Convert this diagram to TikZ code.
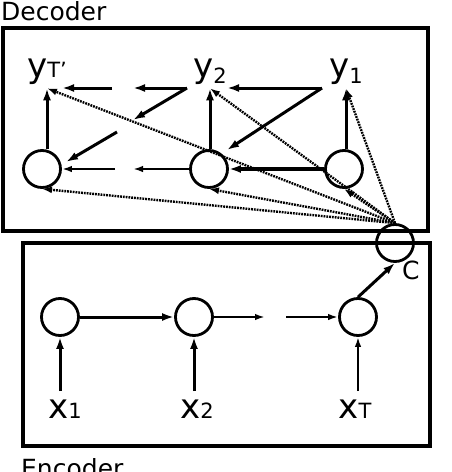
\documentclass[tikz,border=0pt]{standalone}
\usepackage{fontspec}
\setmainfont{DejaVu Sans}
\usetikzlibrary{arrows.meta}
\newcommand{\biglab}[3]{{\fontsize{34}{36}\selectfont #1}\raisebox{#3}{\fontsize{21}{23}\selectfont #2}}
\begin{document}
\begin{tikzpicture}[x=1pt,y=-1pt,
  cell/.style={circle,draw,line width=2.8pt,minimum size=37pt,inner sep=0pt},
  box/.style={draw,line width=3.2pt,inner sep=0pt},
  ylab/.style={inner xsep=0pt,inner ysep=4pt,anchor=base},
  xlab/.style={inner xsep=0pt,inner ysep=8pt,anchor=base},
  title/.style={inner sep=0pt,anchor=base west,font=\fontsize{25}{28}\selectfont},
  thickarr/.style={line width=3pt,-{Latex[length=12pt,width=8pt]}},
  thinarr/.style={line width=2pt,-{Latex[length=10pt,width=6.5pt]}},
  dotarr/.style={line width=2.4pt,dash pattern=on 1.8pt off 1pt,-{Latex[length=10pt,width=7pt]}},
]
\useasboundingbox (0,0) rectangle (452,472);

% boxes and titles
\node[box,minimum width=425pt,minimum height=203pt] (dec) at (215.5,129.5) {};
\node[box,minimum width=407pt,minimum height=203pt] (enc) at (226.5,344.5) {};
\node[title] (dectitle) at (1,20) {Decoder};
\node[title] (enctitle) at (21,477) {Encoder};

% encoder
\node[cell] (e1) at (60,317) {};
\node[cell] (e2) at (194,317) {};
\node[cell] (e3) at (358,317) {};
\node[cell] (c) at (395,243) {};
\node[title] (clab) at (402,279) {C};
\node[xlab] (x1) at (65,418) {\biglab{x}{1}{0pt}};
\node[xlab] (x2) at (197,418) {\biglab{x}{2}{0pt}};
\node[xlab] (xT) at (355,418) {\biglab{x}{T}{0pt}};

\draw[thickarr] (e1.south |- x1.north) -- (e1.south);
\draw[thickarr] (e2.south |- x2.north) -- (e2.south);
\draw[thinarr] (e3.south |- xT.north) -- (e3.south);
\coordinate (ea) at (265,317);
\coordinate (eb) at (286,317);
\draw[thickarr] (e1.east) -- (e2.west);
\draw[thinarr] (e2.east) -- (ea);
\draw[thinarr] (eb) -- (e3.west);
\draw[thickarr] (e3.north) -- (c.south);

% decoder
\node[cell] (d1) at (42,169) {};
\node[cell] (d2) at (209,169) {};
\node[cell] (d3) at (344,169) {};
\node[ylab] (yT) at (47,77) {\biglab{y}{T'}{0pt}};
\node[ylab] (y2) at (210,77) {\biglab{y}{2}{-6pt}};
\node[ylab] (y1) at (346,77) {\biglab{y}{1}{-6pt}};

\draw[thickarr] (yT.south |- d1.north) -- (yT.south);
\draw[thickarr] (y2.south |- d2.north) -- (y2.south);
\draw[thickarr] (y1.south |- d3.north) -- (y1.south);

% top row
\coordinate (ta) at (322,88);
\coordinate (tb) at (227,88);
\coordinate (tc) at (187,88);
\coordinate (td) at (133,88);
\coordinate (te) at (112,88);
\coordinate (tf) at (62,88);
\draw[thickarr] (ta) -- (tb);
\draw[thickarr] (tc) -- (td);
\draw[thickarr] (te) -- (tf);

% diagonals
\coordinate (ga) at (227,150);
\coordinate (gb) at (133,120);
\coordinate (gc) at (117,132);
\coordinate (gd) at (66,162);
\draw[thickarr] (ta) -- (ga);
\draw[thickarr] (tc) -- (gb);
\draw[thickarr] (gc) -- (gd);

% bottom row
\coordinate (ba) at (133,169);
\coordinate (bb) at (115,169);
\draw[line width=3.6pt,-{Latex[length=12pt,width=8pt]}] (d3.west) -- (d2.east);
\draw[thinarr] (d2.west) -- (ba);
\draw[thinarr] (bb) -- (d1.east);

% attention (dotted)
\draw[dotarr] (c.north) -- (yT.south);
\draw[dotarr] (c.north) -- (y2.south);
\draw[dotarr] (c.north) -- (y1.south);
\draw[dotarr] (c.north) -- (d1.south);
\draw[dotarr] (c.north) -- (d2.south);
\draw[dotarr] (c.north) -- (d3.south);
\end{tikzpicture}
\end{document}
